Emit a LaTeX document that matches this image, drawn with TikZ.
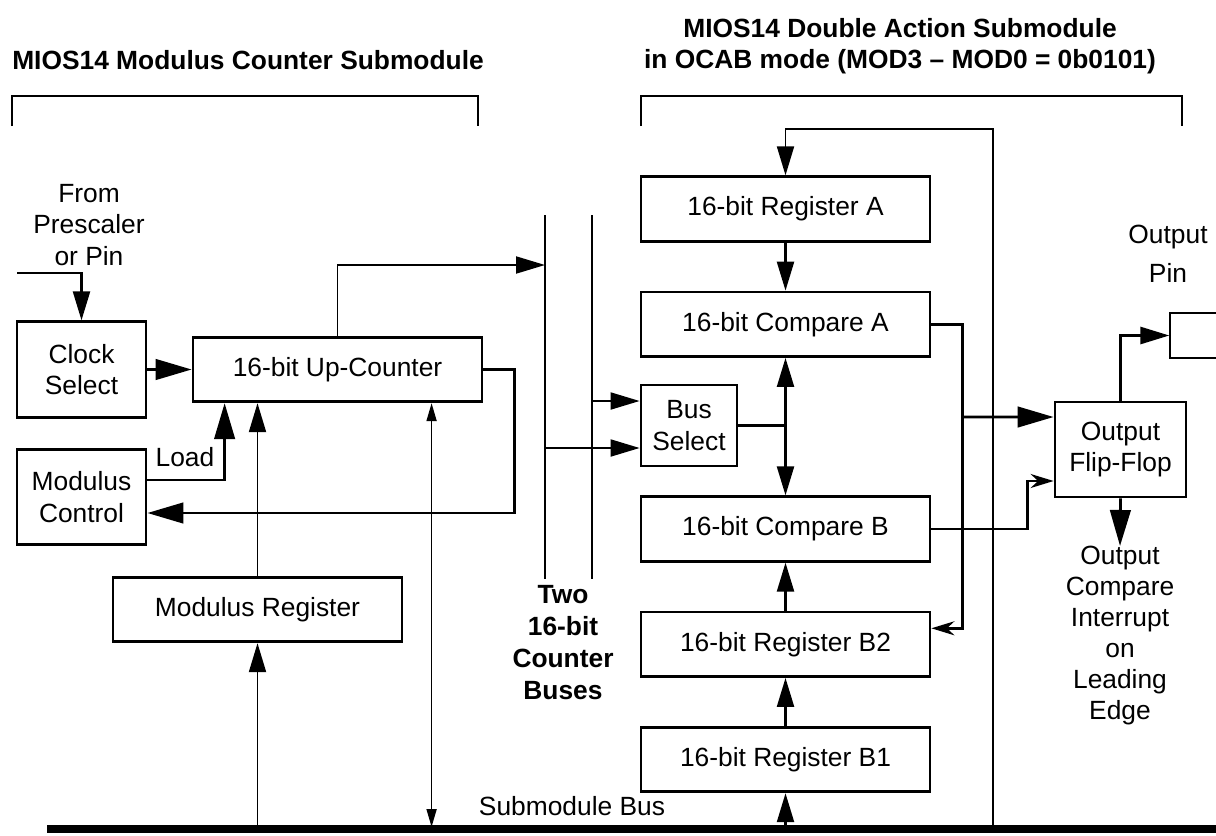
\documentclass[tikz,border=0pt]{standalone}
\usepackage{fontspec}
\setmainfont{Liberation Sans}
\usetikzlibrary{arrows.meta, positioning}
\tikzset{
    blockbox/.style={
        rectangle,
        draw=black,
        line width=1.6pt,
        inner sep=0pt,
        align=center,
        font=\fontsize{15}{18}\selectfont
    },
    regbox/.style={
        blockbox,
        minimum width=5.78cm,
        minimum height=1.29cm
    },
    sidebox/.style={
        blockbox,
        minimum width=2.58cm,
        minimum height=1.91cm
    },
    plainlabel/.style={
        align=center,
        inner sep=0pt,
        font=\fontsize{15}{18}\selectfont
    },
    headlabel/.style={
        plainlabel,
        font=\fontsize{15}{18}\selectfont\bfseries
    },
    wire/.style={
        line width=1.6pt
    },
    busline/.style={
        line width=1.1pt
    },
    bigarrow/.style={
        -{Triangle[length=0.72cm, width=0.41cm]},
        line width=1.6pt
    },
    midarrow/.style={
        -{Triangle[length=0.58cm, width=0.34cm]},
        line width=1.1pt
    },
    colarrow/.style={
        midarrow,
        line width=1.3pt
    },
    smallarrow/.style={
        -{Stealth[length=0.46cm, width=0.28cm, inset=0.15cm]},
        line width=1.6pt
    },
    dblarrow/.style={
        {Triangle[length=0.36cm, width=0.2cm]}-{Triangle[length=0.36cm, width=0.2cm]},
        line width=1pt
    }
}
\begin{document}
\begin{tikzpicture}[x=0.02cm, y=-0.02cm]
    \useasboundingbox (0,0) rectangle (1216,835);

    % headers and brackets
    \node[headlabel] (hdleft) at (248,60) {MIOS14 Modulus Counter Submodule};
    \node[headlabel] (hdright) at (900,46) {MIOS14 Double Action Submodule\\in OCAB mode (MOD3 – MOD0 = 0b0101)};
    \draw[wire] (12,126) |- (478,96) -- (478,126);
    \draw[wire] (641,126) |- (1182,96) -- (1182,126);

    % modulus counter side
    \node[plainlabel] (fromlbl) at (89,225) {From\\Prescaler\\or Pin};
    \node[sidebox] (clock) at (81.5,369.5) {Clock\\Select};
    \node[regbox] (upcnt) at (337.5,369.5) {16-bit Up-Counter};
    \node[sidebox] (modctl) at (81.5,497) {Modulus\\Control};
    \node[regbox] (modreg) at (257.5,609.5) {Modulus Register};
    \node[plainlabel] (loadlbl) at (185,457) {Load};

    % counter buses
    \coordinate (bus1t) at (545,215);
    \coordinate (bus1b) at (545,579);
    \coordinate (bus2t) at (592,215);
    \coordinate (bus2b) at (592,579);
    \draw[busline] (bus1t) -- (bus1b);
    \draw[busline] (bus2t) -- (bus2b);
    \node[headlabel, font=\fontsize{15}{18.2}\selectfont\bfseries] (buslbl) at (563,643) {Two\\16-bit\\Counter\\Buses};

    % double action side
    \node[regbox] (rega) at (785.5,209) {16-bit Register A};
    \node[regbox, below=0.96cm of rega] (compa) {16-bit Compare A};
    \node[blockbox, minimum width=1.92cm, minimum height=1.62cm] (bussel) at (689,425.5) {Bus\\Select};
    \node[regbox] (compb) at (785.5,529) {16-bit Compare B};
    \node[regbox, below=0.96cm of compb] (regb2) {16-bit Register B2};
    \node[regbox, below=0.96cm of regb2] (regb1) {16-bit Register B1};
    \node[blockbox, minimum width=2.62cm, minimum height=1.9cm] (ff) at (1120.5,449.5) {Output\\Flip-Flop};
    \node[draw, line width=0.8pt, minimum width=1.2cm, minimum height=0.9cm] (pin) at (1200,335.5) {};
    \node[plainlabel, font=\fontsize{15}{22}\selectfont] (pinlbl) at (1168,254) {Output\\Pin};
    \node[plainlabel, font=\fontsize{15}{17.6}\selectfont, anchor=north] (intr) at (1120,546) {Output\\Compare\\Interrupt\\on\\Leading\\Edge};

    % submodule bus
    \coordinate (sbl) at (47,829);
    \coordinate (sbr) at (1216,829);
    \draw[line width=4pt] (sbl) -- (sbr);
    \node[plainlabel] (sblbl) at (572,806) {Submodule Bus};

    % connectors, counter side
    \coordinate (clkin) at (17,273);
    \draw[colarrow] (clkin) -| (clock.north);
    \draw[bigarrow] (clock.east) -- (upcnt.west);
    \coordinate (cbin) at (545,265);
    \draw[midarrow] (upcnt.north) |- (cbin);
    \draw[bigarrow] (upcnt.east) -- ++(31,0) |- ([yshift=-0.32cm]modctl.east);
    \draw[bigarrow] ([yshift=0.34cm]modctl.east) -| ([xshift=0.66cm]upcnt.south west);
    \draw[midarrow] (modreg.north) -- (modreg.north |- upcnt.south);
    \draw[midarrow] (modreg.south |- sbl) -- (modreg.south);
    \coordinate (dbltop) at ([xshift=4.8cm]upcnt.south west);
    \draw[dblarrow] ([yshift=0.04cm]dbltop |- sbl) -- (dbltop);

    % connectors, double action side
    \coordinate (bsin2) at ([yshift=0.49cm]bussel.west);
    \coordinate (bsin1) at ([yshift=-0.45cm]bussel.west);
    \draw[midarrow] (bsin2 -| bus2t) -- (bsin2);
    \draw[midarrow] (bsin1 -| bus1t) -- (bsin1);
    \coordinate (fbbot) at (993,829);
    \coordinate (fbtop) at (993,129);
    \draw[busline] (fbbot) -- (fbtop) -| ([yshift=0.2cm]rega.north);
    \draw[midarrow] ([yshift=0.3cm]rega.north) -- (rega.north);
    \draw[colarrow] (rega.south) -- (compa.north);
    \coordinate (jbus) at (compa.south |- bussel.east);
    \draw[wire, line width=1.3pt] (bussel.east) -- (jbus);
    \draw[colarrow] (jbus) -- (compa.south);
    \draw[colarrow] (jbus) -- (compb.north);
    \draw[colarrow] (regb2.north) -- (compb.south);
    \draw[colarrow] (regb1.north) -- (regb2.south);
    \draw[colarrow] (regb1.south |- sbl) -- (regb1.south);
    \draw[smallarrow] (compa.east) -- ++(31,0) |- ([yshift=0.32cm]regb2.east);
    \coordinate (jca) at (961,417);
    \draw[bigarrow] (jca) -- ([yshift=0.65cm]ff.west);
    \draw[smallarrow] (compb.east) -- ++(96,0) |- ([yshift=-0.63cm]ff.west);
    \draw[colarrow, line width=1.6pt] (ff.north) |- (pin.west);
    \draw[bigarrow] (ff.south) -- (intr.north);
\end{tikzpicture}
\end{document}
